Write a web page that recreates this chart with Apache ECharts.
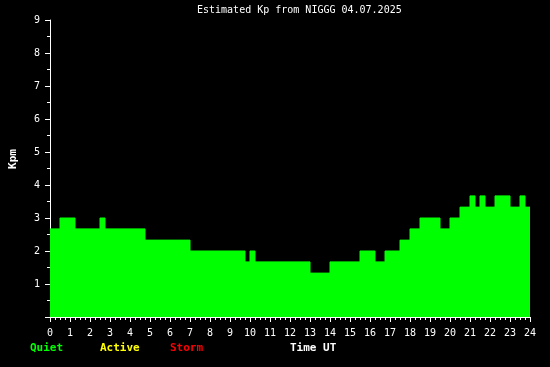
<!DOCTYPE html>
<html>
<head>
<meta charset="utf-8">
<script src="https://cdn.jsdelivr.net/npm/echarts@6/dist/echarts.min.js"></script>
<style>
html,body{margin:0;padding:0;background:#000;}
#c{width:550px;height:367px;}
</style>
</head>
<body>
<div id="c"></div>
<script>
// Segment start times (hours UT) and estimated Kp held from that time
const segStart = [0, 0.5, 1.25, 2.5, 2.75, 4.75, 7.0, 9.75, 10.0, 10.25, 13.0, 14.0, 15.5, 16.25, 16.75, 17.5, 18.0, 18.5, 19.5, 20.0, 20.5, 21.0, 21.25, 21.5, 21.75, 22.25, 23.0, 23.5, 23.75, 24.0];
const kpValues = [2.67, 3.0, 2.67, 3.0, 2.67, 2.33, 2.0, 1.67, 2.0, 1.67, 1.33, 1.67, 2.0, 1.67, 2.0, 2.33, 2.67, 3.0, 2.67, 3.0, 3.33, 3.67, 3.33, 3.67, 3.33, 3.67, 3.33, 3.67, 3.33, 3.33];
const xTicks = [0,1,2,3,4,5,6,7,8,9,10,11,12,13,14,15,16,17,18,19,20,21,22,23,24];
const yTicks = [1,2,3,4,5,6,7,8,9];
const legendItems = ['Quiet', 'Active', 'Storm'];
const legendColors = ['#00ff00', '#ffff00', '#ff0000'];
const titleText = 'Estimated Kp from NIGGG 04.07.2025';

const mono = 'DejaVu Sans Mono';
const data = segStart.map((t, i) => [t, kpValues[i]]);

const chart = echarts.init(document.getElementById('c'), null, {renderer: 'canvas'});
const legendX = [30, 100, 170];
chart.setOption({
  backgroundColor: '#000',
  animation: false,
  title: {
    text: titleText, left: 197, top: 5, padding: 0,
    textStyle: {color: '#fff', fontFamily: mono, fontSize: 10, fontWeight: 'normal'}
  },
  grid: {left: 50, right: 20, top: 20, bottom: 50, containLabel: false},
  xAxis: {
    type: 'value', min: 0, max: 24, interval: 1,
    axisLine: {lineStyle: {color: '#fff', width: 1}},
    axisTick: {show: true, length: 5, lineStyle: {color: '#fff'}},
    minorTick: {show: true, splitNumber: 4, length: 3, lineStyle: {color: '#fff'}},
    splitLine: {show: false},
    axisLabel: {
      color: '#fff', fontFamily: mono, fontSize: 10, margin: 11,
      formatter: v => xTicks.includes(v) ? String(v) : ''
    }
  },
  yAxis: {
    type: 'value', min: 0, max: 9, interval: 1,
    axisLine: {show: true, lineStyle: {color: '#fff', width: 1}},
    axisTick: {show: true, length: 5, lineStyle: {color: '#fff'}},
    minorTick: {show: true, splitNumber: 2, length: 3, lineStyle: {color: '#fff'}},
    splitLine: {show: false},
    axisLabel: {
      color: '#fff', fontFamily: mono, fontSize: 10, margin: 10,
      formatter: v => yTicks.includes(v) ? String(v) : ''
    }
  },
  series: [{
    type: 'line', step: 'end', data: data, symbol: 'none',
    lineStyle: {color: '#00ff00', width: 1},
    areaStyle: {color: '#00ff00', opacity: 1},
    z: 1
  }],
  graphic: [
    ...legendItems.map((t, i) => ({
      type: 'text', left: legendX[i], top: 343,
      style: {text: t, fill: legendColors[i], font: 'bold 11px "' + mono + '"'}
    })),
    {
      type: 'text', left: 290, top: 343,
      style: {text: 'Time UT', fill: '#fff', font: 'bold 11px "' + mono + '"'}
    },
    {
      type: 'text', x: 13, y: 159, rotation: Math.PI / 2,
      style: {text: 'Kpm', fill: '#fff', font: 'bold 11px "' + mono + '"', align: 'center', verticalAlign: 'middle'}
    }
  ]
});
</script>
</body>
</html>
